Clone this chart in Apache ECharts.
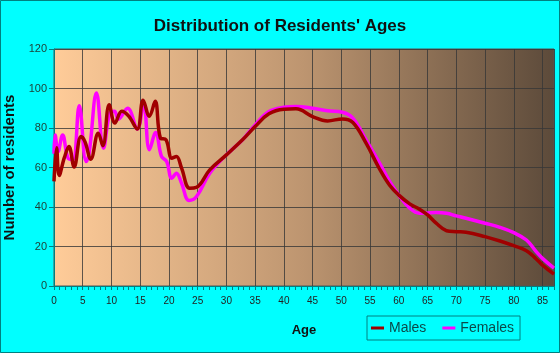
<!DOCTYPE html>
<html>
<head>
<meta charset="utf-8">
<script src="https://cdn.jsdelivr.net/npm/echarts@6/dist/echarts.min.js"></script>
<style>
  html, body { margin: 0; padding: 0; background: #00ffff; }
  #chart { width: 560px; height: 353px; }
</style>
</head>
<body>
<div id="chart"></div>
<script>
var maleAges = [0, 0.45, 0.9, 1.8, 2.6, 3.5, 4.7, 5.4, 6.4, 7.7, 8.5, 9.6, 10.6, 11.8, 13, 14.5, 15.5, 16.6, 17.6, 18.5, 19.5, 20.5, 21.3, 22.2, 23.6, 24.8, 27.1, 30, 32.8, 35, 37.4, 40, 42.1, 45, 47.6, 50.2, 52, 54.3, 56.6, 58.4, 60, 61.9, 63.6, 65, 66.5, 68.3, 70, 71.7, 75, 77.6, 80, 82.2, 83.9, 85, 87];
var maleValues = [53, 70, 56, 65, 70.6, 60.2, 75.7, 73, 64.2, 77.4, 71, 91.8, 82.5, 88.5, 86, 79.5, 94, 86, 93.5, 75, 74, 64.7, 65.6, 59.7, 49.5, 50, 58.8, 66.4, 74, 80.7, 87.2, 89.5, 89.7, 85.8, 83.6, 84.6, 82.8, 72.3, 59.5, 51, 46, 41.6, 38.9, 36, 31.8, 28, 27.5, 27.2, 25, 22.8, 20.4, 17.9, 13.7, 10.6, 6];
var femaleAges = [0, 0.2, 0.7, 1.5, 2.5, 3.3, 4.4, 5.6, 6.1, 7.4, 8.6, 9.7, 10.5, 11.2, 12.8, 14.5, 15.6, 16.6, 17.7, 18.7, 19.6, 20.5, 21.3, 22.2, 23.5, 24.8, 27.1, 30, 32.8, 35, 37.4, 40, 42.1, 45, 47.6, 50.2, 52, 54.3, 56.6, 58.4, 60, 61.9, 63.6, 65, 66.5, 68.3, 70, 71.7, 75, 77.6, 80, 82.2, 83.9, 85, 87];
var femaleValues = [67, 76.5, 68, 76.5, 64.5, 64, 91.3, 63, 67, 97.7, 69.8, 87.6, 88.5, 84.5, 90, 79.5, 92.6, 69, 77.7, 65.6, 63, 54.6, 57.1, 52, 43.3, 45.3, 57.1, 66.4, 74, 81.6, 88.3, 90.5, 90.9, 90, 88.7, 88, 85, 74, 62.5, 52.9, 46, 39.4, 36.8, 37, 37.2, 36.8, 35.5, 34.3, 31.8, 29.7, 27, 23.3, 17.4, 14, 9];

function pairs(xs, ys) {
  return xs.map(function(x, i) { return [x, ys[i]]; });
}

var chart = echarts.init(document.getElementById('chart'));
var option = {
  backgroundColor: '#00ffff',
  animation: false,
  title: {
    text: "Distribution of Residents' Ages",
    left: 'center',
    top: 13,
    textStyle: { fontFamily: 'Liberation Sans', fontWeight: 'bold', fontSize: 17, color: '#111' }
  },
  legend: {
    left: 367,
    top: 316,
    padding: [5, 6, 5, 4],
    itemGap: 16,
    itemWidth: 13,
    itemHeight: 3,
    icon: 'rect',
    borderColor: '#008080',
    borderWidth: 1,
    textStyle: { fontFamily: 'Liberation Sans', fontSize: 14, color: '#0b4a4a' },
    data: ['Males', 'Females']
  },
  grid: {
    left: 54, right: 6, top: 49, bottom: 67,
    outerBoundsMode: 'none',
    containLabel: false,
    show: true,
    borderColor: '#555',
    borderWidth: 1,
    backgroundColor: new echarts.graphic.LinearGradient(0, 0, 1, 0, [
      { offset: 0, color: '#ffcc99' },
      { offset: 0.5, color: '#bd9570' },
      { offset: 1, color: '#5c4a3a' }
    ])
  },
  xAxis: {
    type: 'value',
    min: 0, max: 87, interval: 5,
    name: 'Age',
    nameLocation: 'middle',
    nameGap: 38,
    nameTextStyle: { fontFamily: 'Liberation Sans', fontWeight: 'bold', fontSize: 13, color: '#111' },
    axisLine: { lineStyle: { color: '#008080', width: 1 } },
    axisTick: { show: true, length: 4, lineStyle: { color: '#008080' } },
    minorTick: { show: true, splitNumber: 5, length: 4, lineStyle: { color: '#008080' } },
    axisLabel: { fontFamily: 'Liberation Sans', fontSize: 10, color: '#222', margin: 10,
      formatter: function(v) { return v <= 85 ? v : ''; } },
    splitLine: { show: true, lineStyle: { color: 'rgba(55,55,55,0.8)', width: 1 } }
  },
  yAxis: {
    type: 'value',
    min: 0, max: 120, interval: 20,
    name: 'Number of residents',
    nameLocation: 'middle',
    nameGap: 34,
    nameTextStyle: { fontFamily: 'Liberation Sans', fontWeight: 'bold', fontSize: 15, color: '#111' },
    axisLine: { show: true, lineStyle: { color: '#008080', width: 1 } },
    axisTick: { show: true, length: 5, lineStyle: { color: '#008080' } },
    axisLabel: { fontFamily: 'Liberation Sans', fontSize: 11, color: '#1d3d33', margin: 7 },
    splitLine: { show: true, lineStyle: { color: 'rgba(55,55,55,0.8)', width: 1 } }
  },
  series: [
    {
      name: 'Males',
      type: 'line',
      data: pairs(maleAges, maleValues),
      smooth: 0.4,
      showSymbol: false,
      z: 4,
      itemStyle: { color: '#a00000' },
      lineStyle: { color: '#a00000', width: 3.5 }
    },
    {
      name: 'Females',
      type: 'line',
      data: pairs(femaleAges, femaleValues),
      smooth: 0.4,
      showSymbol: false,
      z: 3,
      itemStyle: { color: '#ff00ff' },
      lineStyle: { color: '#ff00ff', width: 3.5 }
    }
  ],
  graphic: [{
    type: 'rect',
    shape: { x: 0.5, y: 0.5, width: 559, height: 352 },
    style: { fill: 'none', stroke: '#008080', lineWidth: 1 },
    silent: true
  }]
};
chart.setOption(option);
</script>
</body>
</html>
